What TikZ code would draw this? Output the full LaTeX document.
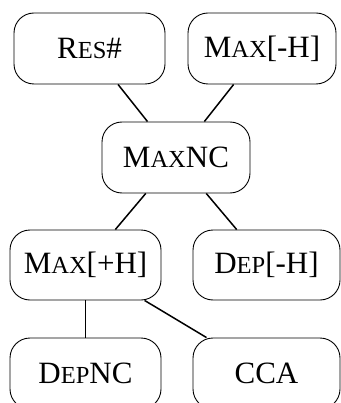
\documentclass[tikz,border=0pt]{standalone}
\usepackage{fontspec}
\setmainfont{Liberation Serif}
\newcommand\smc[1]{{\fontsize{24.5pt}{26pt}\selectfont #1}}
\begin{document}
\begin{tikzpicture}[x=1pt,y=-1pt,
  box/.style={draw, line width=0.9pt, rounded corners=20pt, minimum height=71pt, inner sep=0pt,
    font=\fontsize{31pt}{34pt}\selectfont},
  link/.style={line width=1.5pt}]
\useasboundingbox (0,0) rectangle (340,403);
\node[box, minimum width=151pt] (res) at (89.5,48.5) {R\smc{ES}\#};
\node[box, minimum width=148pt] (maxh) at (262,48.5) {M\smc{AX}[-H]};
\node[box, minimum width=148pt] (maxnc) at (176,157.5) {M\smc{AX}NC};
\node[box, minimum width=151pt, minimum height=70pt] (maxph) at (85.5,265) {M\smc{AX}[+H]};
\node[box, minimum width=147pt, minimum height=70pt] (deph) at (266.5,265) {D\smc{EP}[-H]};
\node[box, minimum width=151pt] (depnc) at (85.5,373.5) {D\smc{EP}NC};
\node[box, minimum width=147pt] (cca) at (266.5,373.5) {CCA};
\draw[link] (res) -- (maxnc);
\draw[link] (maxh) -- (maxnc);
\draw[link] (maxnc) -- (maxph);
\draw[link] (maxnc) -- (deph);
\draw[link] (maxph) -- (depnc);
\draw[link] (maxph) -- (cca);
\end{tikzpicture}
\end{document}
